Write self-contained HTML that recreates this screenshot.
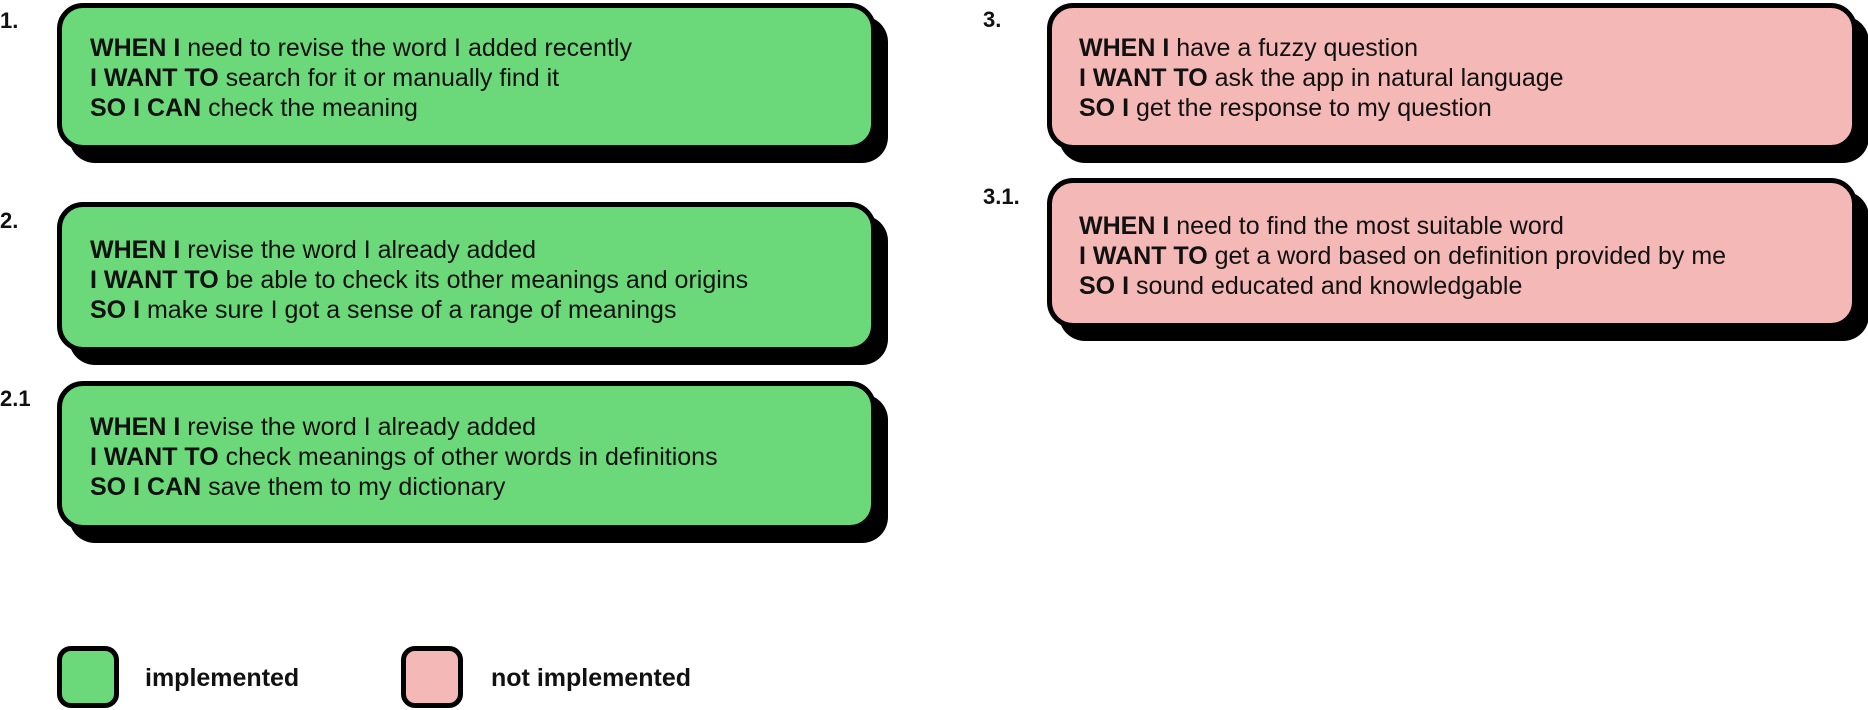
<!DOCTYPE html>
<html><head><meta charset="utf-8"><style>
html,body{margin:0;padding:0;background:#fff;}
body{width:1868px;height:710px;position:relative;overflow:hidden;font-family:"Liberation Sans",sans-serif;color:#111;}
.box{position:absolute;box-sizing:border-box;border:5px solid #000;border-radius:26px;box-shadow:12px 13px 0 #000;}
.g{background:#6bd97a;}
.p{background:#f4b8b6;}
.t{position:absolute;font-size:25px;line-height:30px;white-space:nowrap;}
.t b{font-weight:bold;}
.lab{position:absolute;font-weight:bold;font-size:22px;line-height:22px;}
.sq{position:absolute;box-sizing:border-box;border:5px solid #000;border-radius:14px;width:62px;height:62px;}
.leg{position:absolute;font-weight:bold;font-size:25px;line-height:26px;}
</style></head><body>
<div class="lab" style="left:0;top:10px">1.</div>
<div class="box g" style="left:57px;top:3px;width:819px;height:147px"></div>
<div class="t" style="left:90px;top:33px"><b>WHEN I</b> need to revise the word I added recently<br><b>I WANT TO</b> search for it or manually find it<br><b>SO I CAN</b> check the meaning</div>

<div class="lab" style="left:0;top:210px">2.</div>
<div class="box g" style="left:57px;top:202px;width:819px;height:150px"></div>
<div class="t" style="left:90px;top:235px"><b>WHEN I</b> revise the word I already added<br><b>I WANT TO</b> be able to check its other meanings and origins<br><b>SO I</b> make sure I got a sense of a range of meanings</div>

<div class="lab" style="left:0;top:388px">2.1</div>
<div class="box g" style="left:57px;top:381px;width:819px;height:149px"></div>
<div class="t" style="left:90px;top:412px"><b>WHEN I</b> revise the word I already added<br><b>I WANT TO</b> check meanings of other words in definitions<br><b>SO I CAN</b> save them to my dictionary</div>

<div class="lab" style="left:983px;top:9px">3.</div>
<div class="box p" style="left:1047px;top:3px;width:810px;height:147px"></div>
<div class="t" style="left:1079px;top:33px"><b>WHEN I</b> have a fuzzy question<br><b>I WANT TO</b> ask the app in natural language<br><b>SO I</b> get the response to my question</div>

<div class="lab" style="left:983px;top:186px">3.1.</div>
<div class="box p" style="left:1047px;top:178px;width:810px;height:150px"></div>
<div class="t" style="left:1079px;top:211px"><b>WHEN I</b> need to find the most suitable word<br><b>I WANT TO</b> get a word based on definition provided by me<br><b>SO I</b> sound educated and knowledgable</div>

<div class="sq g" style="left:57px;top:646px"></div>
<div class="leg" style="left:145px;top:665px">implemented</div>
<div class="sq p" style="left:401px;top:646px"></div>
<div class="leg" style="left:491px;top:665px">not implemented</div>
</body></html>
